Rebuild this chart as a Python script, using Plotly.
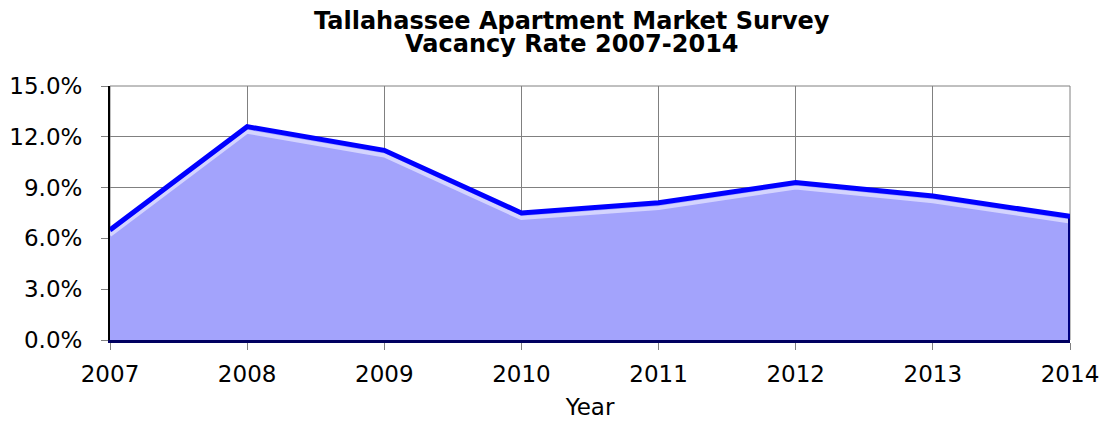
import plotly.graph_objects as go

years = [2007, 2008, 2009, 2010, 2011, 2012, 2013, 2014]
vacancy = [6.5, 12.6, 11.2, 7.5, 8.1, 9.3, 8.5, 7.3]
y_ticks = [0, 3, 6, 9, 12, 15]
title_lines = ["Tallahassee Apartment Market Survey", "Vacancy Rate 2007-2014"]
x_title = "Year"

FONT = "DejaVu Sans"
HILITE = 0.3  # bevel highlight offset (style only)

fig = go.Figure()
fig.add_trace(go.Scatter(
    x=years, y=vacancy, mode="lines", fill="tozeroy",
    fillcolor="#a3a3fc", line=dict(color="#a3a3fc", width=0),
    hoverinfo="skip", showlegend=False,
))
# bevel highlight just under the top edge
fig.add_trace(go.Scatter(
    x=years, y=[v - HILITE for v in vacancy], mode="lines",
    line=dict(color="#d4d4fe", width=4),
    hoverinfo="skip", showlegend=False,
))
# right dark edge
fig.add_trace(go.Scatter(
    x=[years[-1], years[-1]], y=[0, vacancy[-1]], mode="lines",
    line=dict(color="#000080", width=4),
    hoverinfo="skip", showlegend=False,
))
fig.add_trace(go.Scatter(
    x=years, y=vacancy, mode="lines",
    line=dict(color="#0000ff", width=5),
    hoverinfo="skip", showlegend=False,
))

W, H = 1102, 421
L, R, T, B = 110, 32, 86, 81
ph = H - T - B


def py(p):
    return 1 + (T - p) / ph


fig.add_annotation(text="<b>" + title_lines[0] + "</b>", xref="paper", yref="paper",
                   x=0.5, y=py(21), xanchor="center", yanchor="middle",
                   showarrow=False, font=dict(family=FONT, size=24, color="black"),
                   xshift=-18)
fig.add_annotation(text="<b>" + title_lines[1] + "</b>", xref="paper", yref="paper",
                   x=0.5, y=py(43.5), xanchor="center", yanchor="middle",
                   showarrow=False, font=dict(family=FONT, size=24, color="black"),
                   xshift=-18)

fig.add_shape(type="rect", xref="paper", yref="paper", x0=0, x1=1, y0=0, y1=1,
              line=dict(color="#808080", width=1), layer="below")

fig.update_layout(
    width=W, height=H,
    margin=dict(l=L, r=R, t=T, b=B, autoexpand=False),
    paper_bgcolor="white", plot_bgcolor="white",
    font=dict(family=FONT, color="black"),
    xaxis=dict(
        range=[years[0], years[-1]], tickvals=years,
        ticktext=[str(y) for y in years],
        showgrid=True, gridcolor="#808080", gridwidth=1,
        showline=True, linecolor="#000060", linewidth=3,
        ticks="outside", ticklen=7, tickcolor="#808080",
        tickfont=dict(size=23), zeroline=False,
        ticklabelstandoff=4, automargin=False,
        title=dict(text=x_title, font=dict(size=23), standoff=14),
    ),
    yaxis=dict(
        range=[0, 15], tickvals=y_ticks,
        ticktext=[f"{v:.1f}%" for v in y_ticks],
        showgrid=True, gridcolor="#808080", gridwidth=1,
        showline=True, linecolor="black", linewidth=2,
        ticks="outside", ticklen=7, tickcolor="#808080",
        tickfont=dict(size=23), zeroline=False,
        ticklabelstandoff=14, automargin=False,
    ),
)

fig.write_html(
    "out.html",
    config={"displayModeBar": False},
    post_script="document.body.style.margin='0';document.body.style.overflow='hidden';",
)
